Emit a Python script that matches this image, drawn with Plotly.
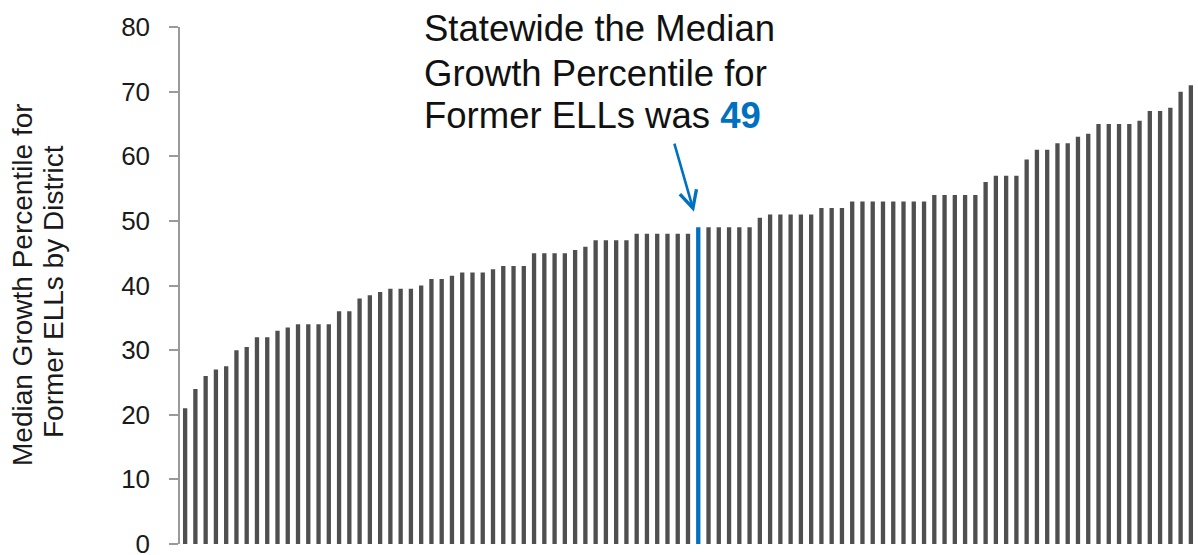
import plotly.graph_objects as go

values = [
    21, 24, 26, 27, 27.5, 30, 30.5, 32, 32, 33, 33.5, 34, 34, 34, 34, 36, 36, 38, 38.5, 39,
    39.5, 39.5, 39.5, 40, 41, 41, 41.5, 42, 42, 42, 42.5, 43, 43, 43, 45, 45, 45, 45, 45.5, 46,
    47, 47, 47, 47, 48, 48, 48, 48, 48, 48, 49, 49, 49, 49, 49, 49, 50.5, 51, 51, 51,
    51, 51, 52, 52, 52, 53, 53, 53, 53, 53, 53, 53, 53, 54, 54, 54, 54, 54, 56, 57,
    57, 57, 59.5, 61, 61, 62, 62, 63, 63.5, 65, 65, 65, 65, 65.5, 67, 67, 67.5, 70, 71,
]
districts = list(range(len(values)))
median_index = 50
median_value = 49
y_ticks = [0, 10, 20, 30, 40, 50, 60, 70, 80]
y_title_lines = ["Median Growth Percentile for", "Former ELLs by District"]

GRAY = "#4F4F4F"
BLUE = "#0070C0"
colors = [BLUE if i == median_index else GRAY for i in districts]

fig = go.Figure()
fig.add_trace(go.Bar(
    x=districts, y=values, marker=dict(color=colors, line=dict(width=0)),
    width=0.42, hoverinfo="y",
))

FONT = "Liberation Sans, Arial, sans-serif"
fig.update_layout(
    width=1198, height=555,
    margin=dict(l=180, r=2, t=27, b=11, autoexpand=False),
    paper_bgcolor="white", plot_bgcolor="white",
    showlegend=False,
    font=dict(family=FONT, color="#1a1a1a"),
    xaxis=dict(range=[-0.5, len(values) - 0.5], showticklabels=False, ticks="",
               showgrid=False, zeroline=False, showline=False, automargin=False),
    yaxis=dict(range=[0, 80], tickvals=y_ticks, ticks="outside", ticklen=9,
               tickcolor="#9a9a9a", tickwidth=1.5, showline=True, linecolor="#9a9a9a",
               linewidth=1.5, showgrid=False, zeroline=False, automargin=False,
               tickfont=dict(size=26, family=FONT, color="#1a1a1a"),
               ticklabelstandoff=14, ticklabeloverflow="allow"),
)

# y-axis title as rotated annotations (one per line)
for txt, px, py in zip(y_title_lines, [22, 53], [285, 292]):
    fig.add_annotation(
        xref="paper", yref="paper", x=(px - 180) / 1016, y=1 - (py - 27) / 517,
        text=txt, textangle=-90, showarrow=False, xanchor="center", yanchor="middle",
        font=dict(size=28, family=FONT, color="#1a1a1a"),
    )

# callout text, one annotation per line
lines = ["Statewide the Median", "Growth Percentile for",
         f"Former ELLs was <b><span style='color:{BLUE}'>{median_value}</span></b>"]
line_y = [29, 73, 116]
for txt, py in zip(lines, line_y):
    fig.add_annotation(
        xref="paper", yref="paper", x=(422 - 180) / 1016, y=1 - (py - 27) / 517,
        text=txt, showarrow=False, xanchor="left", yanchor="middle",
        font=dict(size=36.5, family=FONT, color="#111111"),
    )

# arrow to median bar
fig.add_annotation(
    x=median_index - 0.42, y=median_value + 2.4, xref="x", yref="y",
    ax=median_index - 2.37, ay=median_value + 13.2, axref="x", ayref="y",
    showarrow=True, arrowhead=5, arrowsize=1.3, arrowwidth=2.6, arrowcolor=BLUE, text="",
)

fig.write_html("out.html")
